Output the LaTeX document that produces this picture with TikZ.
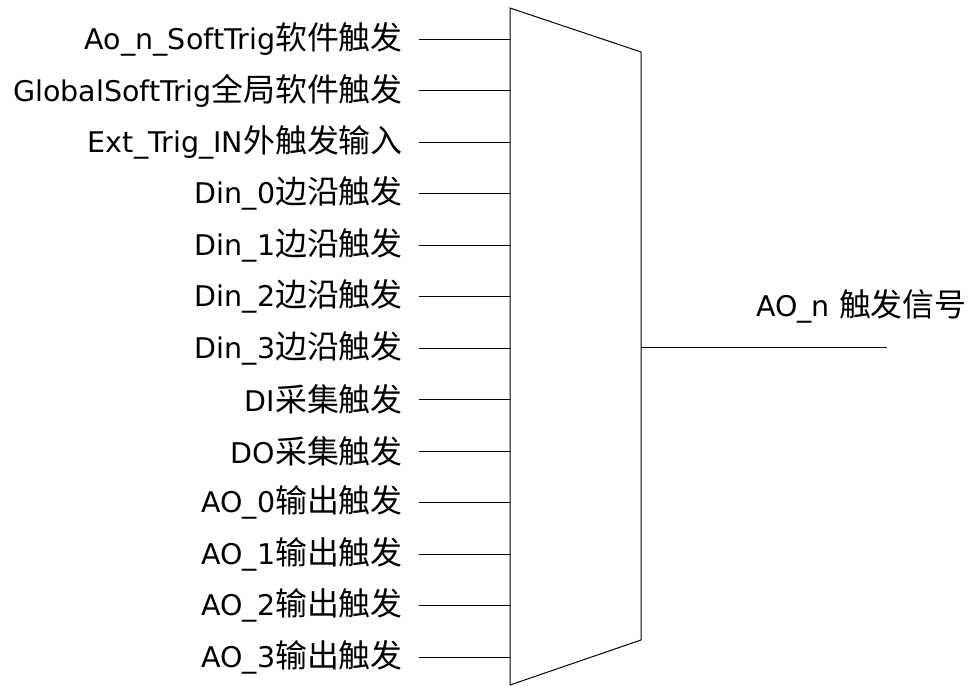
\documentclass[tikz,border=0pt]{standalone}
\usepackage{fontspec}
\setmainfont{DejaVu Sans}
\newfontfamily\cjk[Scale=1.12]{Noto Sans CJK SC}
\tikzset{
  trig/.style={anchor=east,inner xsep=16pt,inner ysep=0pt,font=\fontsize{28.5}{34}\selectfont},
  wire/.style={line width=1pt}
}

\begin{document}
\begin{tikzpicture}[x=1pt,y=-1pt]
\useasboundingbox (0,0) rectangle (972,686);
% mux body
\draw[wire] (510,8) coordinate (mtl) -- (641,52) coordinate (mtr)
  -- (641,640) coordinate (mbr) -- (510,685) coordinate (mbl) -- cycle;
% inputs
\foreach \name/\txt [count=\i] in {Ao\_n\_SoftTrig/软件触发,GlobalSoftTrig/全局软件触发,
  Ext\_Trig\_IN/外触发输入,Din\_0/边沿触发,Din\_1/边沿触发,Din\_2/边沿触发,Din\_3/边沿触发,
  DI/采集触发,DO/采集触发,AO\_0/输出触发,AO\_1/输出触发,AO\_2/输出触发,AO\_3/输出触发}{
  \node[trig] (t\i) at (419,{39+(\i-1)*51.5}) {\name{\cjk\txt}};
  \draw[wire] (t\i.east) -- (t\i.east -| mtl);
}
% output
\coordinate (out) at (887,347);
\draw[wire] (out -| mtr) -- (out);
\node[anchor=west,inner sep=0pt,font=\fontsize{28.5}{34}\selectfont] (olbl) at (756,306) {AO\_n {\cjk 触发信号}};
\end{tikzpicture}
\end{document}
